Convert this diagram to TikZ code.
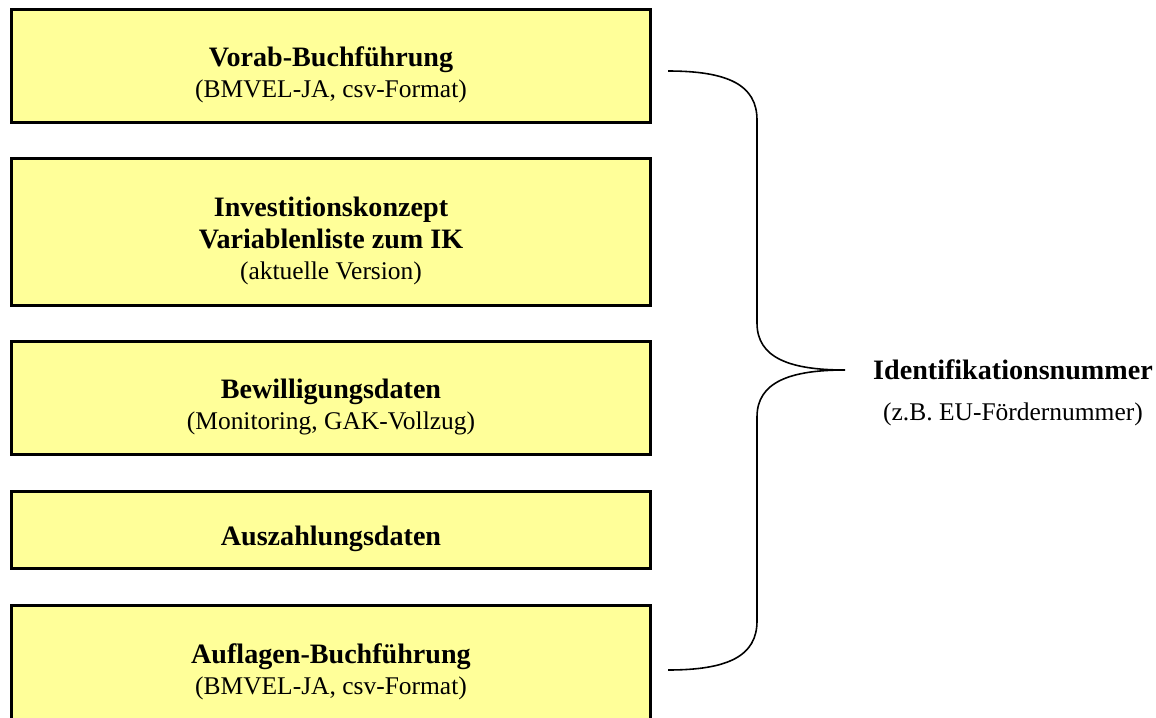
\documentclass[tikz,border=0pt]{standalone}
\usepackage{fontspec}
\setmainfont{Liberation Serif}
\usepackage{xcolor}
\usetikzlibrary{
    positioning,
    calc
}
\definecolor{boxyellow}{RGB}{255,255,153}
\newcommand{\subline}[1]{{\fontsize{14.5}{17.8}\selectfont #1}}

\begin{document}
\begin{tikzpicture}[x=0.02cm,y=-0.02cm,
        databox/.style={draw=black,line width=1.7pt,fill=boxyellow,minimum width=12.8cm},
        boxtext/.style={align=center,font=\fontsize{16}{17.8}\selectfont},
        idlabel/.style={align=center,font=\fontsize{16}{17.8}\selectfont},
        brace line/.style={black,line width=0.9pt}]
                \useasboundingbox (0,0) rectangle (1156,717);
                \foreach \name/\y/\h/\txt in {vorab/66/2.26/{\textbf{Vorab-Buchführung}\\\subline{(BMVEL-JA, csv-Format)}},
                        invest/232/2.94/{\textbf{Investitionskonzept}\\\textbf{Variablenliste zum IK}\\\subline{(aktuelle Version)}},
                        bewill/398/2.26/{\textbf{Bewilligungsdaten}\\\subline{(Monitoring, GAK-Vollzug)}},
                        auszahl/530/1.54/{\textbf{Auszahlungsdaten}},
                        auflagen/663/2.3/{\textbf{Auflagen-Buchführung}\\\subline{(BMVEL-JA, csv-Format)}}}
                    {\node[databox,minimum height=\h cm] (\name) at (331,\y) {};
                     \node[boxtext] (\name-text) at ($(\name.center)+(0,9)$) {\txt};}
                \coordinate (bracetop) at (668,71);
                \coordinate (bracebot) at (668,670);
                \coordinate (bracetip) at (845,370);
                \draw[brace line] (bracetop) .. controls +(60,0) and +(0,-35) .. (757,120) -- (757,323)
                    .. controls +(0,35) and +(-55,0) .. (bracetip)
                    .. controls +(-55,0) and +(0,-35) .. (757,417) -- (757,621)
                    .. controls +(0,35) and +(60,0) .. (bracebot);
                \node[idlabel,right=0.44cm of bracetip] (idnr) {\textbf{Identifikationsnummer}};
                \node[idlabel,below=6pt of idnr] (idsub) {\subline{(z.B. EU-Fördernummer)}};
            \end{tikzpicture}
\end{document}
